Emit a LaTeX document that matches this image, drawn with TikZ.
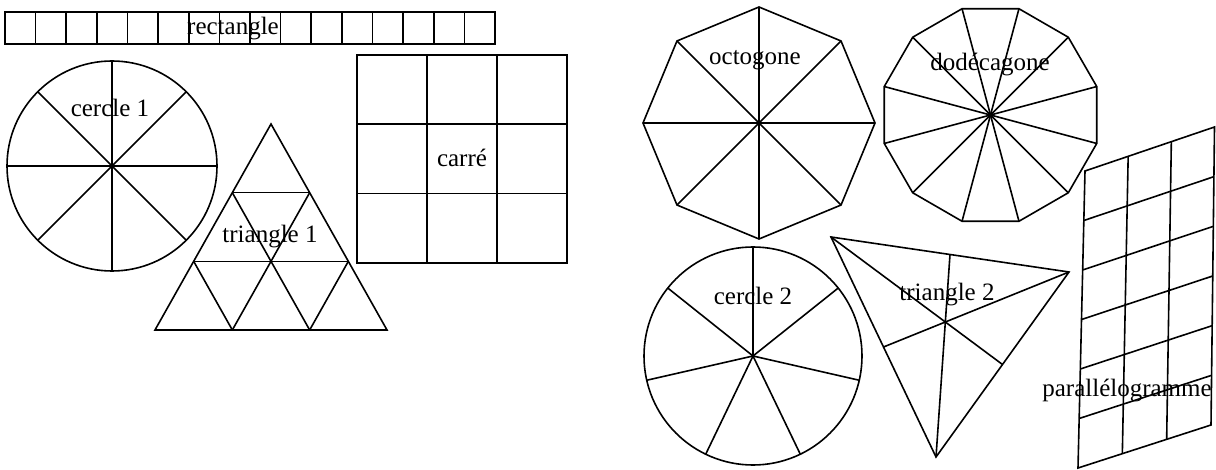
\documentclass[tikz,border=0pt]{standalone}
\usepackage{fontspec}
\setmainfont{Liberation Serif}
\usetikzlibrary{calc}
\begin{document}
\begin{tikzpicture}[x=0.5pt,y=-0.5pt,line width=0.8pt,
  lbl/.style={font=\fontsize{12.5}{15}\selectfont,inner sep=0pt,anchor=base}]
\useasboundingbox (0,0) rectangle (1216,470);
% rectangle strip
\draw (5,12) rectangle (495,44);
\foreach \i in {1,...,15} \draw ({5+\i*490/16},12) -- ({5+\i*490/16},44);
\node[lbl] (trect) at (233,35) {rectangle};
% cercle 1
\coordinate (c1) at (112,166);
\draw (c1) circle[radius=105];
\foreach \a in {0,45,...,315} \draw (c1) -- ++(\a:105);
\node[lbl] (tc1) at (110,117) {cercle 1};
% triangle 1
\coordinate (T) at (271,124);
\coordinate (L) at (155,330);
\coordinate (R) at (387,330);
\draw (T) -- (L) -- (R) -- cycle;
\draw ($(L)!1/3!(T)$) -- ($(R)!1/3!(T)$);
\draw ($(L)!2/3!(T)$) -- ($(R)!2/3!(T)$);
\draw ($(L)!1/3!(R)$) -- ($(R)!2/3!(T)$);
\draw ($(L)!2/3!(R)$) -- ($(R)!1/3!(T)$);
\draw ($(L)!2/3!(R)$) -- ($(L)!2/3!(T)$);
\draw ($(L)!1/3!(R)$) -- ($(L)!1/3!(T)$);
\node[lbl] (tt1) at (270,243) {triangle 1};
% carre
\draw (357,55) rectangle (567,263);
\draw (427,55) -- (427,263);
\draw (497,55) -- (497,263);
\draw (357,124.3) -- (567,124.3);
\draw (357,193.7) -- (567,193.7);
\node[lbl] (tcarre) at (462,167) {carré};
% octogone
\coordinate (oc) at (759,123);
\foreach \k in {0,...,7} \coordinate (o\k) at ($(oc)+(\k*45:116)$);
\draw (o0) \foreach \k in {1,...,7} {-- (o\k)} -- cycle;
\foreach \k in {0,...,7} \draw (oc) -- (o\k);
\node[lbl] (toct) at (755,65) {octogone};
% dodecagone
\coordinate (dc) at (990.5,115);
\foreach \k in {0,...,11} \coordinate (d\k) at ($(dc)+(15+\k*30:110)$);
\draw (d0) \foreach \k in {1,...,11} {-- (d\k)} -- cycle;
\foreach \k in {0,...,11} \draw (dc) -- (d\k);
\node[lbl] (tdod) at (990,71) {dodécagone};
% cercle 2
\coordinate (c2) at (753,356);
\draw (c2) circle[radius=109];
\foreach \k in {0,...,6} \draw (c2) -- ++({-(90+\k*360/7)}:109);
\node[lbl] (tc2) at (753,305) {cercle 2};
% triangle 2
\coordinate (A) at (831,237);
\coordinate (B) at (1069,272);
\coordinate (C) at (936,457);
\draw (A) -- (B) -- (C) -- cycle;
\draw (A) -- ($(B)!0.5!(C)$);
\draw (B) -- ($(A)!0.5!(C)$);
\draw (C) -- ($(A)!0.5!(B)$);
\node[lbl] (tt2) at (947,301) {triangle 2};
% parallelogramme
\coordinate (PTL) at (1085,171);
\coordinate (PTR) at (1214.5,127);
\coordinate (PBL) at (1078,468);
\coordinate (PBR) at (1211,425);
\draw (PTL) -- (PTR) -- (PBR) -- (PBL) -- cycle;
\foreach \i in {1,2} \draw ($(PTL)!\i/3!(PTR)$) -- ($(PBL)!\i/3!(PBR)$);
\foreach \j in {1,...,5} \draw ($(PTL)!\j/6!(PBL)$) -- ($(PTR)!\j/6!(PBR)$);
\node[lbl] (tpar) at (1127,396) {parallélogramme};
\end{tikzpicture}
\end{document}
